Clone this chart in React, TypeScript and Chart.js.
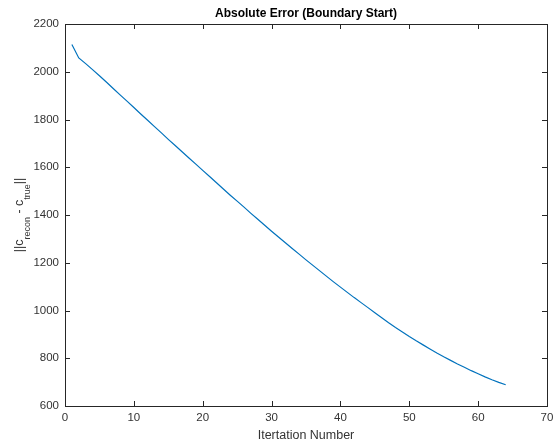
import { useEffect, useRef } from "react";
import { Chart, registerables } from "chart.js";

Chart.register(...registerables);

// ||c_recon - c_true|| at each iteration (iteration = index + 1)
const errorNorm = [
  2114, 2058, 2034, 2009, 1983, 1957, 1930, 1903, 1877, 1850,
  1823, 1797, 1770, 1744, 1717, 1691, 1665, 1639, 1613, 1587,
  1561, 1535, 1509, 1483, 1458, 1433, 1407, 1382, 1357, 1332,
  1308, 1284, 1260, 1236, 1212, 1189, 1166, 1143, 1120, 1098,
  1076, 1054, 1033, 1012, 991, 970, 949, 929, 910, 891,
  873, 856, 839, 822, 806, 791, 776, 762, 748, 735,
  722, 710, 699, 689,
];

const xTicks = [0, 10, 20, 30, 40, 50, 60, 70];
const yTicks = [600, 800, 1000, 1200, 1400, 1600, 1800, 2000, 2200];

const chartTitle = "Absolute Error (Boundary Start)";
const xAxisLabel = "Itertation Number";

const AXIS_COLOR = "#262626";
const TEXT_COLOR = "#333333";
const LINE_COLOR = "#0072BD";
const FONT = '"Liberation Sans", Arial, Helvetica, sans-serif';
const TICK_LEN = 5;

// Draws the boxed frame, inward tick marks on all four sides, the title
// and both axis labels (the y label needs subscripts, so it is hand-drawn).
const framePlugin = {
  id: "frame",
  afterDraw(chart: any) {
    const { ctx, chartArea: a, scales } = chart;
    ctx.save();
    ctx.strokeStyle = AXIS_COLOR;
    ctx.lineWidth = 1;
    ctx.strokeRect(a.left + 0.5, a.top + 0.5, a.right - a.left, a.bottom - a.top);

    ctx.beginPath();
    for (const v of xTicks) {
      const px = Math.round(scales.x.getPixelForValue(v)) + 0.5;
      ctx.moveTo(px, a.bottom);
      ctx.lineTo(px, a.bottom - TICK_LEN);
      ctx.moveTo(px, a.top);
      ctx.lineTo(px, a.top + TICK_LEN);
    }
    for (const v of yTicks) {
      const py = Math.round(scales.y.getPixelForValue(v)) + 0.5;
      ctx.moveTo(a.left, py);
      ctx.lineTo(a.left + TICK_LEN, py);
      ctx.moveTo(a.right, py);
      ctx.lineTo(a.right - TICK_LEN, py);
    }
    ctx.stroke();

    const cx = (a.left + a.right) / 2;
    ctx.fillStyle = "#000000";
    ctx.textAlign = "center";
    ctx.textBaseline = "alphabetic";
    ctx.font = `bold 12px ${FONT}`;
    ctx.fillText(chartTitle, cx, 17);

    ctx.fillStyle = TEXT_COLOR;
    ctx.font = `12.5px ${FONT}`;
    ctx.fillText(xAxisLabel, cx, 439);

    // y label: ||c_recon - c_true||
    const mainFont = `12.5px ${FONT}`;
    const subFont = `9px ${FONT}`;
    const parts: [string, boolean][] = [
      ["||c", false],
      ["recon", true],
      [" - c", false],
      ["true", true],
      ["||", false],
    ];
    let total = 0;
    for (const [t, sub] of parts) {
      ctx.font = sub ? subFont : mainFont;
      total += ctx.measureText(t).width;
    }
    const cy = (a.top + a.bottom) / 2;
    ctx.translate(23, cy);
    ctx.rotate(-Math.PI / 2);
    ctx.textAlign = "left";
    let x = -total / 2;
    for (const [t, sub] of parts) {
      ctx.font = sub ? subFont : mainFont;
      ctx.fillText(t, x, sub ? 6.5 : 0);
      x += ctx.measureText(t).width;
    }
    ctx.restore();
  },
};

export default function App() {
  const canvasRef = useRef<HTMLCanvasElement | null>(null);

  useEffect(() => {
    if (!canvasRef.current) return;
    const points = errorNorm.map((v, i) => ({ x: i + 1, y: v }));
    const chart = new Chart(canvasRef.current, {
      type: "line",
      data: {
        datasets: [
          {
            data: points,
            borderColor: LINE_COLOR,
            borderWidth: 1.2,
            pointRadius: 0,
            tension: 0,
            fill: false,
          },
        ],
      },
      options: {
        responsive: false,
        animation: false,
        layout: { padding: { top: 24, right: 12, bottom: 0, left: 0 } },
        plugins: {
          legend: { display: false },
          tooltip: { enabled: false },
          title: { display: false },
        },
        scales: {
          x: {
            type: "linear",
            min: 0,
            max: 70,
            afterBuildTicks: (s: any) => {
              s.ticks = xTicks.map((v) => ({ value: v }));
            },
            afterFit: (s: any) => {
              s.height = 38;
            },
            grid: { display: false, drawTicks: false },
            border: { display: false },
            ticks: {
              color: TEXT_COLOR,
              font: { family: FONT, size: 11.5 },
              padding: 5,
              maxRotation: 0,
              autoSkip: false,
              callback: (v: any) => String(v),
            },
          },
          y: {
            type: "linear",
            min: 600,
            max: 2200,
            afterBuildTicks: (s: any) => {
              s.ticks = yTicks.map((v) => ({ value: v }));
            },
            afterFit: (s: any) => {
              s.width = 65;
            },
            grid: { display: false, drawTicks: false },
            border: { display: false },
            ticks: {
              color: TEXT_COLOR,
              font: { family: FONT, size: 11.5 },
              padding: 6,
              autoSkip: false,
              callback: (v: any) => String(v),
            },
          },
        },
      },
      plugins: [framePlugin],
    });
    return () => chart.destroy();
  }, []);

  return (
    <div style={{ position: "fixed", left: 0, top: 0, width: 559, height: 444, background: "#ffffff" }}>
      <canvas ref={canvasRef} width={559} height={444} />
    </div>
  );
}
